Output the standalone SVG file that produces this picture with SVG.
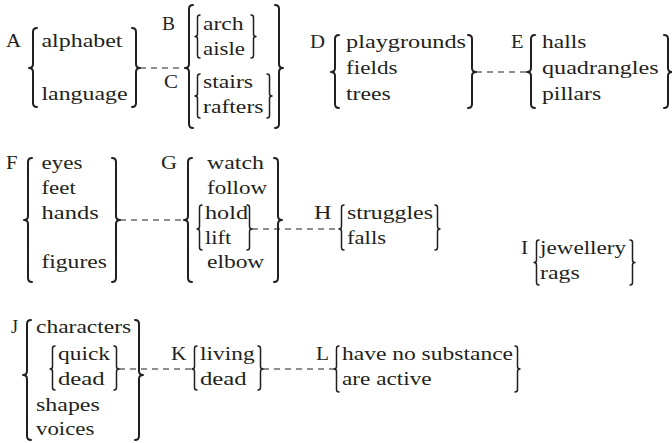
<svg xmlns="http://www.w3.org/2000/svg" width="672" height="443" viewBox="0 0 672 443">
<style>
text{font-family:"Liberation Serif","Times New Roman",serif;font-size:19px;fill:#231f20}
.br{fill:none;stroke:#231f20;stroke-width:2;stroke-linejoin:round;stroke-linecap:round}
.sb{fill:none;stroke:#231f20;stroke-width:1.5;stroke-linejoin:round;stroke-linecap:round}
.cn{fill:none;stroke:#231f20;stroke-width:1.1;stroke-dasharray:6 5}
</style>
<rect width="672" height="443" fill="#fff"/>
<g id="connectors">
<path class="cn" d="M140 68H185"/>
<path class="cn" d="M476 72H527"/>
<path class="cn" d="M120 220H184"/>
<path class="cn" d="M252 229H339"/>
<path class="cn" d="M119 369H192"/>
<path class="cn" d="M263 369H334"/>
</g>
<g id="A">
<text x="6" y="47" textLength="15" lengthAdjust="spacingAndGlyphs">A</text>
<path class="br" d="M37 28Q33 28 33 32V64Q33 68 29 68Q33 68 33 72V103Q33 107 37 107"/>
<text x="41.5" y="47" textLength="81" lengthAdjust="spacingAndGlyphs">alphabet</text>
<text x="41.5" y="100" textLength="86" lengthAdjust="spacingAndGlyphs">language</text>
<path class="br" d="M132 28Q136 28 136 32V64Q136 68 140 68Q136 68 136 72V103Q136 107 132 107"/>
</g>
<g id="BC">
<path class="br" d="M193 5Q189 5 189 9V64Q189 68 185 68Q189 68 189 72V124Q189 128 193 128"/>
<path class="br" d="M275 5Q279 5 279 9V64Q279 68 283 68Q279 68 279 72V124Q279 128 275 128"/>
<g id="B">
<text x="162" y="30" textLength="13" lengthAdjust="spacingAndGlyphs">B</text>
<path class="sb" d="M200 15Q197.5 15 197.5 17.5V34Q197.5 36.5 195 36.5Q197.5 36.5 197.5 39V55.5Q197.5 58 200 58"/>
<text x="203" y="30" textLength="40.7" lengthAdjust="spacingAndGlyphs">arch</text>
<text x="203" y="55" textLength="42" lengthAdjust="spacingAndGlyphs">aisle</text>
<path class="sb" d="M251 15Q253.5 15 253.5 17.5V34Q253.5 36.5 256 36.5Q253.5 36.5 253.5 39V55.5Q253.5 58 251 58"/>
</g>
<g id="C">
<text x="164" y="88" textLength="14" lengthAdjust="spacingAndGlyphs">C</text>
<path class="sb" d="M200 74Q197.5 74 197.5 76.5V93.5Q197.5 96 195 96Q197.5 96 197.5 98.5V115.5Q197.5 118 200 118"/>
<text x="203" y="88" textLength="50" lengthAdjust="spacingAndGlyphs">stairs</text>
<text x="203" y="113" textLength="60.5" lengthAdjust="spacingAndGlyphs">rafters</text>
<path class="sb" d="M267 74Q269.5 74 269.5 76.5V93.5Q269.5 96 272 96Q269.5 96 269.5 98.5V115.5Q269.5 118 267 118"/>
</g>
</g>
<g id="D">
<text x="310" y="48" textLength="15" lengthAdjust="spacingAndGlyphs">D</text>
<path class="br" d="M339 35Q335 35 335 39V68Q335 72 331 72Q335 72 335 76V104Q335 108 339 108"/>
<text x="346" y="48" textLength="120" lengthAdjust="spacingAndGlyphs">playgrounds</text>
<text x="346" y="74" textLength="51.5" lengthAdjust="spacingAndGlyphs">fields</text>
<text x="346" y="100" textLength="44.6" lengthAdjust="spacingAndGlyphs">trees</text>
<path class="br" d="M468 35Q472 35 472 39V68Q472 72 476 72Q472 72 472 76V104Q472 108 468 108"/>
</g>
<g id="E">
<text x="511" y="48" textLength="12.5" lengthAdjust="spacingAndGlyphs">E</text>
<path class="br" d="M535 35Q531 35 531 39V68Q531 72 527 72Q531 72 531 76V104Q531 108 535 108"/>
<text x="542" y="48" textLength="44.3" lengthAdjust="spacingAndGlyphs">halls</text>
<text x="542" y="74" textLength="116.6" lengthAdjust="spacingAndGlyphs">quadrangles</text>
<text x="542" y="100" textLength="59.2" lengthAdjust="spacingAndGlyphs">pillars</text>
<path class="br" d="M664 35Q668 35 668 39V68Q668 72 672 72Q668 72 668 76V104Q668 108 664 108"/>
</g>
<g id="F">
<text x="6" y="169" textLength="11.5" lengthAdjust="spacingAndGlyphs">F</text>
<path class="br" d="M32 158Q28 158 28 162V216Q28 220 24 220Q28 220 28 224V278Q28 282 32 282"/>
<text x="41.5" y="169" textLength="41" lengthAdjust="spacingAndGlyphs">eyes</text>
<text x="41.5" y="194" textLength="34.3" lengthAdjust="spacingAndGlyphs">feet</text>
<text x="41.5" y="219" textLength="57.2" lengthAdjust="spacingAndGlyphs">hands</text>
<text x="41.5" y="268" textLength="65.3" lengthAdjust="spacingAndGlyphs">figures</text>
<path class="br" d="M112 158Q116 158 116 162V216Q116 220 120 220Q116 220 116 224V278Q116 282 112 282"/>
</g>
<g id="G">
<text x="161" y="169" textLength="16" lengthAdjust="spacingAndGlyphs">G</text>
<path class="br" d="M192 158Q188 158 188 162V216Q188 220 184 220Q188 220 188 224V278Q188 282 192 282"/>
<text x="207" y="169" textLength="56.9" lengthAdjust="spacingAndGlyphs">watch</text>
<text x="207" y="194" textLength="60.2" lengthAdjust="spacingAndGlyphs">follow</text>
<g id="G-hold-lift">
<path class="sb" d="M202 205Q199.5 205 199.5 207.5V226.5Q199.5 229 197 229Q199.5 229 199.5 231.5V247.5Q199.5 250 202 250"/>
<text x="205" y="219" textLength="43" lengthAdjust="spacingAndGlyphs">hold</text>
<text x="205" y="244" textLength="26.3" lengthAdjust="spacingAndGlyphs">lift</text>
<path class="sb" d="M247 205Q249.5 205 249.5 207.5V226.5Q249.5 229 252 229Q249.5 229 249.5 231.5V247.5Q249.5 250 247 250"/>
</g>
<text x="207" y="268" textLength="57.3" lengthAdjust="spacingAndGlyphs">elbow</text>
<path class="br" d="M274 158Q278 158 278 162V216Q278 220 282 220Q278 220 278 224V278Q278 282 274 282"/>
</g>
<g id="H">
<text x="314" y="219" textLength="17.5" lengthAdjust="spacingAndGlyphs">H</text>
<path class="sb" d="M344 205Q341.5 205 341.5 207.5V226.5Q341.5 229 339 229Q341.5 229 341.5 231.5V247.5Q341.5 250 344 250"/>
<text x="347" y="219" textLength="85.9" lengthAdjust="spacingAndGlyphs">struggles</text>
<text x="347" y="244" textLength="39" lengthAdjust="spacingAndGlyphs">falls</text>
<path class="sb" d="M435 205Q437.5 205 437.5 207.5V226.5Q437.5 229 440 229Q437.5 229 437.5 231.5V247.5Q437.5 250 435 250"/>
</g>
<g id="I">
<text x="521" y="254" textLength="7" lengthAdjust="spacingAndGlyphs">I</text>
<path class="sb" d="M539 240Q536.5 240 536.5 242.5V260Q536.5 262.5 534 262.5Q536.5 262.5 536.5 265V282.5Q536.5 285 539 285"/>
<text x="540" y="254" textLength="86" lengthAdjust="spacingAndGlyphs">jewellery</text>
<text x="540" y="279" textLength="39.8" lengthAdjust="spacingAndGlyphs">rags</text>
<path class="sb" d="M630 240Q632.5 240 632.5 242.5V260Q632.5 262.5 635 262.5Q632.5 262.5 632.5 265V282.5Q632.5 285 630 285"/>
</g>
<g id="J">
<text x="11" y="333" textLength="7" lengthAdjust="spacingAndGlyphs">J</text>
<path class="br" d="M31 320Q27 320 27 324V371Q27 375 23 375Q27 375 27 379V436Q27 440 31 440"/>
<text x="36" y="333" textLength="95.2" lengthAdjust="spacingAndGlyphs">characters</text>
<g id="J-quick-dead">
<path class="sb" d="M55 346Q52.5 346 52.5 348.5V366.5Q52.5 369 50 369Q52.5 369 52.5 371.5V387.5Q52.5 390 55 390"/>
<text x="58" y="360" textLength="52" lengthAdjust="spacingAndGlyphs">quick</text>
<text x="58" y="385" textLength="46.7" lengthAdjust="spacingAndGlyphs">dead</text>
<path class="sb" d="M114 346Q116.5 346 116.5 348.5V366.5Q116.5 369 119 369Q116.5 369 116.5 371.5V387.5Q116.5 390 114 390"/>
</g>
<text x="36" y="411" textLength="63.8" lengthAdjust="spacingAndGlyphs">shapes</text>
<text x="36" y="435" textLength="58.3" lengthAdjust="spacingAndGlyphs">voices</text>
<path class="br" d="M135 320Q139 320 139 324V371Q139 375 143 375Q139 375 139 379V436Q139 440 135 440"/>
</g>
<g id="K">
<text x="171" y="360" textLength="15.4" lengthAdjust="spacingAndGlyphs">K</text>
<path class="sb" d="M197 346Q194.5 346 194.5 348.5V366.5Q194.5 369 192 369Q194.5 369 194.5 371.5V387.5Q194.5 390 197 390"/>
<text x="200" y="360" textLength="54.6" lengthAdjust="spacingAndGlyphs">living</text>
<text x="200" y="385" textLength="46.7" lengthAdjust="spacingAndGlyphs">dead</text>
<path class="sb" d="M258 346Q260.5 346 260.5 348.5V366.5Q260.5 369 263 369Q260.5 369 260.5 371.5V387.5Q260.5 390 258 390"/>
</g>
<g id="L">
<text x="316" y="360" textLength="13" lengthAdjust="spacingAndGlyphs">L</text>
<path class="sb" d="M339 346Q336.5 346 336.5 348.5V366.5Q336.5 369 334 369Q336.5 369 336.5 371.5V389.5Q336.5 392 339 392"/>
<text x="342" y="360" textLength="171" lengthAdjust="spacingAndGlyphs">have no substance</text>
<text x="342" y="385" textLength="89.7" lengthAdjust="spacingAndGlyphs">are active</text>
<path class="sb" d="M515 346Q517.5 346 517.5 348.5V366.5Q517.5 369 520 369Q517.5 369 517.5 371.5V389.5Q517.5 392 515 392"/>
</g>
</svg>
